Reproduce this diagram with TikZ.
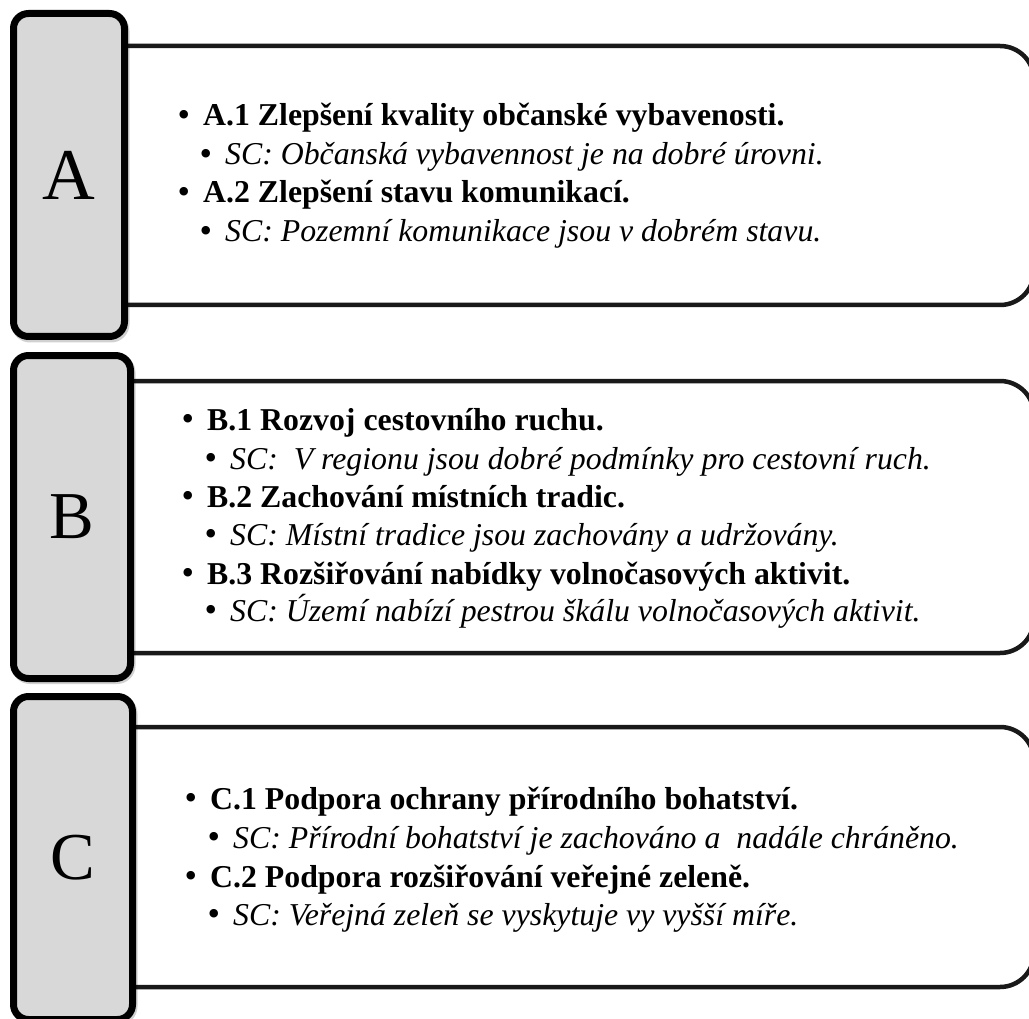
\documentclass[tikz,border=0pt]{standalone}
\usepackage{fontspec}
\setmainfont{Liberation Serif}
\definecolor{boxgrey}{HTML}{D8D8D8}
\begin{document}
\begin{tikzpicture}[x=1pt,y=-1pt,
  greybox/.style={draw=black, line width=7pt, fill=boxgrey, rounded corners=15pt,
    minimum width=#1, minimum height=323pt, inner sep=0pt},
  greyshadow/.style={draw=black, line width=7pt, fill=black, rounded corners=15pt,
    opacity=0.18, minimum width=#1, minimum height=323pt, inner sep=0pt},
  whitebox/.style={draw=black!90, line width=4.5pt, fill=white, rounded corners=34pt,
    minimum width=944pt, minimum height=#1, inner sep=0pt},
  bigletter/.style={font=\fontsize{#1}{#1}\selectfont},
  lone/.style={anchor=base west, inner sep=0pt, font=\fontsize{31.8}{38}\selectfont\bfseries},
  ltwo/.style={anchor=base west, inner sep=0pt, font=\fontsize{31.8}{38}\selectfont\itshape}
]
\useasboundingbox[fill=white] (0,0) rectangle (1029,1019);

% white content boxes
\node[whitebox=259pt] (wA) at (562,175.5) {};
\node[whitebox=272pt] (wB) at (562,517) {};
\node[whitebox=260pt] (wC) at (562,857) {};

% shadows of grey boxes
\node[greyshadow=111pt] (sA) at (70.5,177.5) {};
\node[greyshadow=117pt] (sB) at (73.5,519) {};
\node[greyshadow=119pt] (sC) at (74.5,860) {};

% grey label boxes
\node[greybox=111pt] (gA) at (69,175) {};
\node[greybox=117pt] (gB) at (72,517) {};
\node[greybox=119pt] (gC) at (73,858) {};
\node[bigletter=73] (lA) at (gA.center) {A};
\node[bigletter=67] (lB) at (gB.center) {B};
\node[bigletter=67] (lC) at (gC.center) {C};

\newcommand{\bulA}{\llap{\normalfont\raisebox{-0.5pt}{\scalebox{1.12}{\textbullet}}\hspace{13pt}}}

% Row A
\node[lone] (a1) at (203,126) {\bulA A.1 Zlepšení kvality občanské vybavenosti.};
\node[ltwo] (a1s) at (225,165) {\bulA SC: Občanská vybavennost je na dobré úrovni.};
\node[lone] (a2) at (203,203) {\bulA A.2 Zlepšení stavu komunikací.};
\node[ltwo] (a2s) at (225,242) {\bulA SC: Pozemní komunikace jsou v dobrém stavu.};

% Row B
\node[lone] (b1) at (207,430) {\bulA B.1 Rozvoj cestovního ruchu.};
\node[ltwo] (b1s) at (230,469) {\bulA SC: \ V regionu jsou dobré podmínky pro cestovní ruch.};
\node[lone] (b2) at (207,507) {\bulA B.2 Zachování místních tradic.};
\node[ltwo] (b2s) at (230,545) {\bulA SC: Místní tradice jsou zachovány a udržovány.};
\node[lone] (b3) at (207,584) {\bulA B.3 Rozšiřování nabídky volnočasových aktivit.};
\node[ltwo] (b3s) at (230,621) {\bulA SC: Území nabízí pestrou škálu volnočasových aktivit.};

% Row C
\node[lone] (c1) at (210,809) {\bulA C.1 Podpora ochrany přírodního bohatství.};
\node[ltwo] (c1s) at (233,848) {\bulA SC: Přírodní bohatství je zachováno a \ nadále chráněno.};
\node[lone] (c2) at (210,887) {\bulA C.2 Podpora rozšiřování veřejné zeleně.};
\node[ltwo] (c2s) at (233,925) {\bulA SC: Veřejná zeleň se vyskytuje vy vyšší míře.};
\end{tikzpicture}
\end{document}
